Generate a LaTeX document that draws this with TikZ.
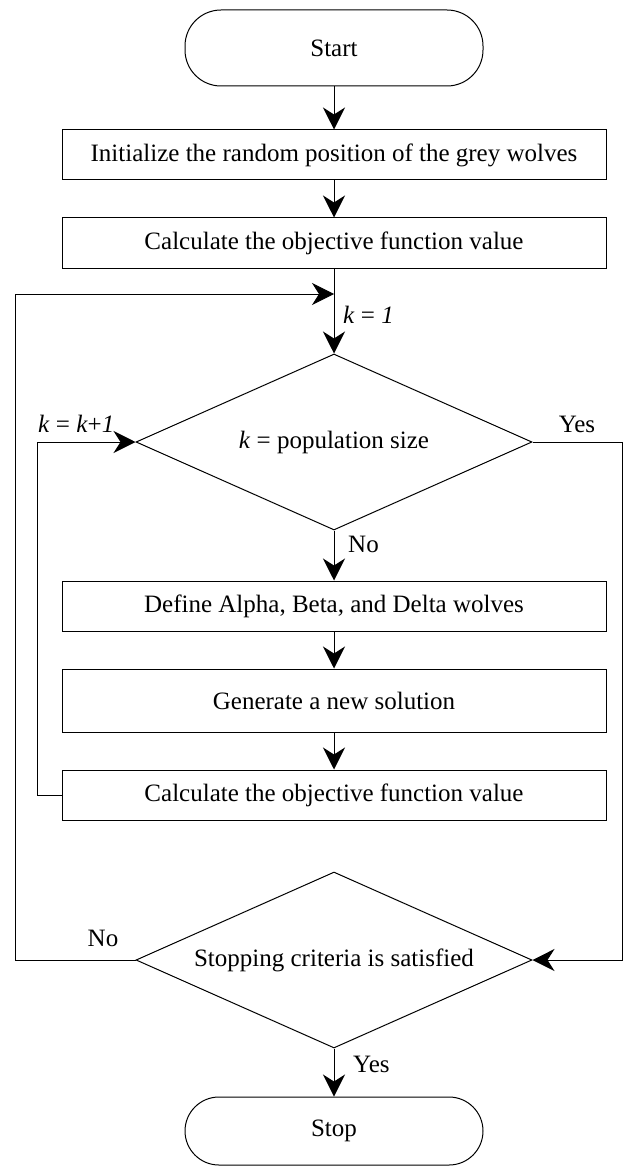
\documentclass[tikz,border=0pt]{standalone}
\usepackage{fontspec}
\setmainfont{Liberation Serif}
\usetikzlibrary{shapes.geometric,arrows.meta,positioning}
\tikzset{
  terminal/.style = {draw, line width=1pt, rectangle, rounded corners=34pt, minimum width=298pt, minimum height=68pt, inner sep=0pt},
  process/.style  = {draw, line width=1pt, rectangle, minimum width=544pt, minimum height=50pt, inner sep=0pt},
  decision/.style = {draw, line width=1pt, diamond, aspect=2.25, minimum width=396pt, minimum height=176pt, inner sep=0pt},
  flowedge/.style = {black, line width=1pt, -{Stealth[length=22pt,width=22pt,inset=7pt]}},
  lbl/.style      = {inner sep=0pt},
}

\begin{document}
\begin{tikzpicture}[x=1pt, y=1pt, font=\fontsize{25}{30}\selectfont]
    \useasboundingbox (0,0) rectangle (624,-1166);

    \node[terminal, minimum height=76pt, rounded corners=36pt] (start) at (334,-48) {Start};
    \node[process, below=43pt of start] (init) {Initialize the random position of the grey wolves};
    \node[process, below=37pt of init] (eval1) {Calculate the objective function value};
    \node[decision, below=85pt of eval1] (popsize) {\textit{k} = population size};
    \node[process, below=50pt of popsize] (leaders) {Define Alpha, Beta, and Delta wolves};
    \node[process, minimum height=63pt, below=37pt of leaders] (update) {Generate a new solution};
    \node[process, below=37pt of update] (eval2) {Calculate the objective function value};
    \node[decision, below=51pt of eval2] (stopcrit) {Stopping criteria is satisfied};
    \node[terminal, below=48pt of stopcrit] (stop) {Stop};

    % rails and join point
    \coordinate (joinA) at (334,-294);
    \coordinate (outerrail) at (15,0);
    \coordinate (innerrail) at (37,0);
    \coordinate (rightrail) at (622,0);

    % labels
    \node[lbl, anchor=base west] (kinit) at (343,-323) {\textit{k} = \textit{1}};
    \node[lbl, anchor=base west] (kinc) at (38,-432) {\textit{k} = \textit{k}+\textit{1}};
    \node[lbl, anchor=base] (yesA) at (577,-432) {Yes};
    \node[lbl, anchor=base west] (noA) at (348,-552) {No};
    \node[lbl, anchor=base] (noB) at (103,-946) {No};
    \node[lbl, anchor=base west] (yesB) at (353,-1072) {Yes};

    \path (start) edge[flowedge] (init);
    \path (init) edge[flowedge] (eval1);
    \path (eval1) edge[flowedge] (popsize);
    \path (popsize) edge[flowedge] (leaders);
    \path (leaders) edge[flowedge] (update);
    \path (update) edge[flowedge] (eval2);
    \path (stopcrit) edge[flowedge] (stop);

    \draw[flowedge] (eval2.west) -- (eval2.west -| innerrail) |- (popsize.west);
    \draw[flowedge] (popsize.east) -- (popsize.east -| rightrail) |- (stopcrit.east);
    \draw[flowedge] (stopcrit.west) -- (stopcrit.west -| outerrail) |- (joinA);
\end{tikzpicture}
\end{document}
